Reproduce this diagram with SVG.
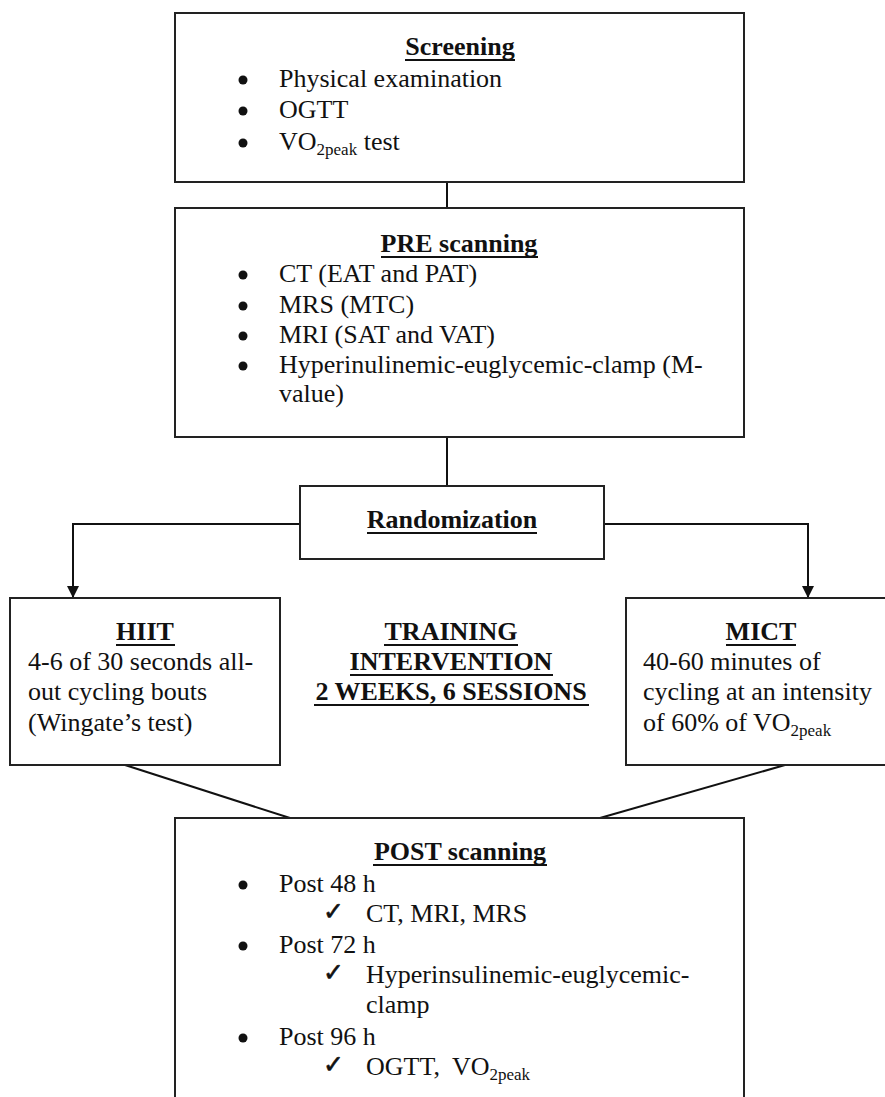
<svg xmlns="http://www.w3.org/2000/svg" width="885" height="1097" viewBox="0 0 885 1097">
<defs>
<style>
.box{fill:#fff;stroke:#222;stroke-width:2}
.ln{fill:none;stroke:#111;stroke-width:2}
.t{font-family:"Liberation Serif","Times New Roman",serif;font-size:26px;fill:#111}
.b{font-weight:bold}
.m{text-anchor:middle}
.ul{stroke:#111;stroke-width:2}
.sub{font-size:17px}
.bu{fill:#111}
.ck{font-family:"DejaVu Sans",sans-serif;font-size:25px;fill:#111;stroke:#111;stroke-width:0.6}
</style>
<marker id="ah" markerWidth="12" markerHeight="14" refX="11" refY="6" orient="auto" markerUnits="userSpaceOnUse">
<path d="M0,0 L12,6 L0,12 Z" fill="#111"/>
</marker>
</defs>
<rect width="885" height="1097" fill="#fff"/>
<g id="connectors">
<line class="ln" x1="447" y1="182" x2="447" y2="208"/>
<line class="ln" x1="447" y1="437" x2="447" y2="486"/>
<polyline class="ln" points="300,524 73,524 73,597" marker-end="url(#ah)"/>
<polyline class="ln" points="604,524 808,524 808,597" marker-end="url(#ah)"/>
<line class="ln" x1="125" y1="765" x2="290" y2="818"/>
<line class="ln" x1="785" y1="765" x2="600" y2="818"/>
</g>
<g id="screening">
<rect class="box" x="175" y="13" width="569" height="169"/>
<text class="t b m" x="460" y="55">Screening</text>
<line class="ul" x1="405" y1="60" x2="515" y2="60"/>
<circle class="bu" cx="243" cy="80" r="4.5"/><text class="t" x="279" y="87">Physical examination</text>
<circle class="bu" cx="243" cy="111" r="4.5"/><text class="t" x="279" y="118">OGTT</text>
<circle class="bu" cx="243" cy="143" r="4.5"/><text class="t" x="279" y="150">VO<tspan class="sub" dy="5">2peak</tspan><tspan dy="-5"> test</tspan></text>
</g>
<g id="pre">
<rect class="box" x="175" y="208" width="569" height="229"/>
<text class="t b m" x="459" y="252">PRE scanning</text>
<line class="ul" x1="381" y1="257" x2="538" y2="257"/>
<circle class="bu" cx="243" cy="275" r="4.5"/><text class="t" x="279" y="282">CT (EAT and PAT)</text>
<circle class="bu" cx="243" cy="306" r="4.5"/><text class="t" x="279" y="313">MRS (MTC)</text>
<circle class="bu" cx="243" cy="336" r="4.5"/><text class="t" x="279" y="343">MRI (SAT and VAT)</text>
<circle class="bu" cx="243" cy="366" r="4.5"/><text class="t" x="279" y="373">Hyperinulinemic-euglycemic-clamp (M-</text>
<text class="t" x="279" y="402">value)</text>
</g>
<g id="randomization">
<rect class="box" x="300" y="486" width="304" height="73"/>
<text class="t b m" x="452" y="528">Randomization</text>
<line class="ul" x1="367" y1="533" x2="537" y2="533"/>
</g>
<g id="hiit">
<rect class="box" x="10" y="598" width="270" height="167"/>
<text class="t b m" x="145" y="640">HIIT</text>
<line class="ul" x1="116" y1="645" x2="175" y2="645"/>
<text class="t" x="28" y="670">4-6 of 30 seconds all-</text>
<text class="t" x="28" y="700">out cycling bouts</text>
<text class="t" x="28" y="731">(Wingate’s test)</text>
</g>
<g id="training">
<text class="t b m" x="451" y="640">TRAINING</text>
<line class="ul" x1="384" y1="645" x2="518" y2="645"/>
<text class="t b m" x="451" y="670">INTERVENTION</text>
<line class="ul" x1="350" y1="675" x2="553" y2="675"/>
<text class="t b m" x="451" y="700">2 WEEKS, 6 SESSIONS</text>
<line class="ul" x1="314" y1="705" x2="589" y2="705"/>
</g>
<g id="mict">
<rect class="box" x="626" y="598" width="270" height="167"/>
<text class="t b m" x="761" y="640">MICT</text>
<line class="ul" x1="726" y1="645" x2="796" y2="645"/>
<text class="t" x="643" y="670">40-60 minutes of</text>
<text class="t" x="643" y="700">cycling at an intensity</text>
<text class="t" x="643" y="731">of 60% of VO<tspan class="sub" dy="5">2peak</tspan></text>
</g>
<g id="post">
<rect class="box" x="175" y="818" width="569" height="300"/>
<text class="t b m" x="460" y="860">POST scanning</text>
<line class="ul" x1="373" y1="865" x2="547" y2="865"/>
<circle class="bu" cx="243" cy="885" r="4.5"/><text class="t" x="279" y="892">Post 48 h</text>
<text class="ck" x="323" y="920">✓</text><text class="t" x="366" y="922">CT, MRI, MRS</text>
<circle class="bu" cx="243" cy="946" r="4.5"/><text class="t" x="279" y="953">Post 72 h</text>
<text class="ck" x="323" y="981">✓</text><text class="t" x="366" y="983">Hyperinsulinemic-euglycemic-</text>
<text class="t" x="366" y="1013">clamp</text>
<circle class="bu" cx="243" cy="1038" r="4.5"/><text class="t" x="279" y="1045">Post 96 h</text>
<text class="ck" x="323" y="1073">✓</text><text class="t" x="366" y="1075">OGTT, <tspan dx="6">VO</tspan><tspan class="sub" dy="5">2peak</tspan></text>
</g>
</svg>
